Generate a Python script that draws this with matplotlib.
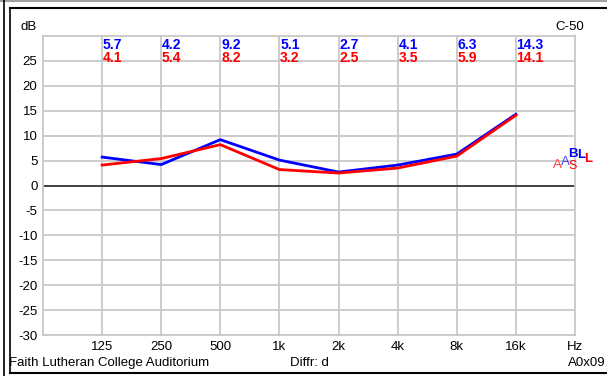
import matplotlib
matplotlib.use("Agg")
import matplotlib.pyplot as plt
from matplotlib.lines import Line2D

plt.rcParams['font.family'] = ['Liberation Sans', 'DejaVu Sans']

freq_labels = ["125", "250", "500", "1k", "2k", "4k", "8k", "16k"]
blue_vals = [5.7, 4.2, 9.2, 5.1, 2.7, 4.1, 6.3, 14.3]
red_vals = [4.1, 5.4, 8.2, 3.2, 2.5, 3.5, 5.9, 14.1]
y_ticks = [25, 20, 15, 10, 5, 0, -5, -10, -15, -20, -25, -30]

W, H = 607, 376
fig = plt.figure(figsize=(W / 100, H / 100), dpi=100)
fig.patch.set_facecolor("white")

L, R, T, B = 43, 575, 36, 335
ax = fig.add_axes([L / W, 1 - B / H, (R - L) / W, (B - T) / H])
ax.set_xlim(0, 9)
ax.set_ylim(-30, 30)

grid_c = "#c8c8c8"
for s in ax.spines.values():
    s.set_color(grid_c)
    s.set_linewidth(1.3)

xs = list(range(1, len(freq_labels) + 1))
for x in xs:
    ax.axvline(x, color=grid_c, lw=1.3, zorder=1)
for y in y_ticks:
    if y == 0:
        ax.axhline(0, color="#333333", lw=1.3, zorder=2)
    else:
        ax.axhline(y, color=grid_c, lw=1.3, zorder=1)

ax.plot(xs, blue_vals, color="#0000ff", lw=2.0, zorder=3)
ax.plot(xs, red_vals, color="#ff0000", lw=2.0, zorder=4)

ax.set_xticks(xs + [9])
ax.set_xticklabels(freq_labels + ["Hz"], fontsize=9.5)
ax.set_yticks(y_ticks)
ax.set_yticklabels([str(v) for v in y_ticks], fontsize=9.5)
ax.tick_params(length=0, pad=4)

# value labels
for x, bv, rv in zip(xs, blue_vals, red_vals):
    ax.annotate(f"{bv:.1f}", xy=(x, 30), xycoords="data", xytext=(0.5, -1.5),
                textcoords="offset points", ha="left", va="top",
                color="#0000ff", fontsize=10, fontweight="bold")
    ax.annotate(f"{rv:.1f}", xy=(x, 30), xycoords="data", xytext=(0.5, -11),
                textcoords="offset points", ha="left", va="top",
                color="#ff0000", fontsize=10, fontweight="bold")

def fx(px):
    return px / W

def fy(py):
    return 1 - py / H

fig.text(fx(37), fy(27), "dB", ha="right", va="center", fontsize=9.5)
fig.text(fx(584), fy(27), "C-50", ha="right", va="center", fontsize=9.5)

# right-side labels
fig.text(fx(557), fy(165), "A", ha="center", va="center", fontsize=9.5, color="#ff4040")
fig.text(fx(565), fy(162), "A", ha="center", va="center", fontsize=9.5, color="#4040ff")
fig.text(fx(573), fy(154), "B", ha="center", va="center", fontsize=9.5, color="#0000ff", fontweight="bold")
fig.text(fx(573), fy(166), "S", ha="center", va="center", fontsize=9, color="#ff0000")
fig.text(fx(581), fy(155), "L", ha="center", va="center", fontsize=9.5, color="#0000ff", fontweight="bold")
fig.text(fx(588), fy(159), "L", ha="center", va="center", fontsize=9.5, color="#ff0000", fontweight="bold")

# footer
fig.text(fx(9), fy(363), "Faith Lutheran College Auditorium", ha="left", va="center", fontsize=9.5)
fig.text(fx(290), fy(363), "Diffr: d", ha="left", va="center", fontsize=9.5)
fig.text(fx(606), fy(363), "A0x09", ha="right", va="center", fontsize=9.5)

# frame lines
def pline(x0, y0, x1, y1, c="black", lw=1.5):
    fig.add_artist(Line2D([fx(x0), fx(x1)], [fy(y0), fy(y1)], color=c, lw=lw,
                          transform=fig.transFigure))

pline(0, 1, W, 1, c="#a0a0a0", lw=1.5)
pline(3.5, 0, 3.5, H, lw=1.2)
pline(10, 7.5, W, 7.5, lw=1.5)
pline(10, 7.5, 10, 372, lw=1.2)
pline(10, 372.5, W, 372.5, lw=1.5)

fig.savefig("out.png", dpi=100)
